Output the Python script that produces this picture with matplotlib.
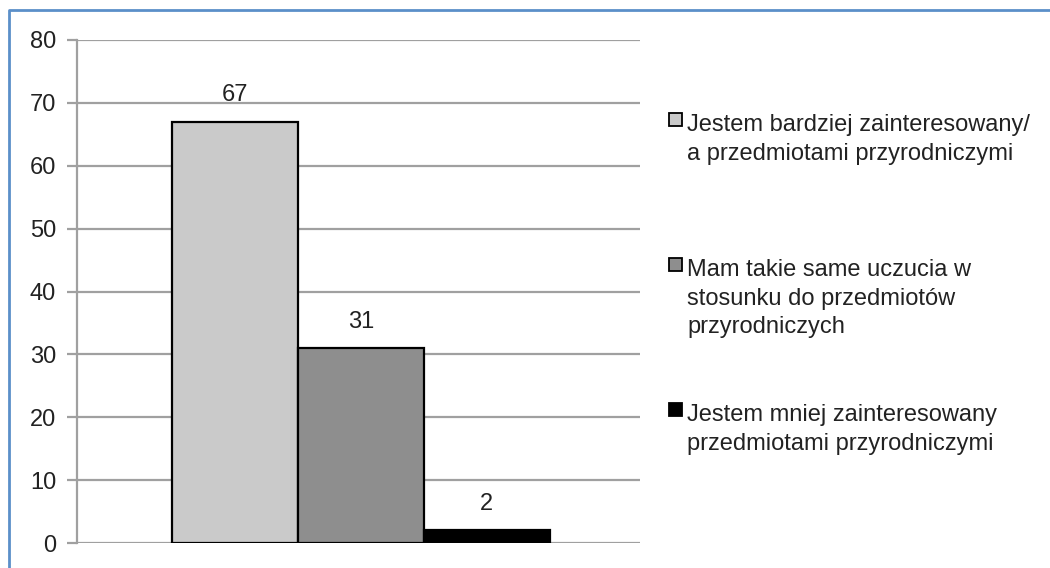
import matplotlib.pyplot as plt
from matplotlib.patches import Rectangle
from matplotlib.lines import Line2D

plt.rcParams['font.family'] = ['Liberation Sans', 'DejaVu Sans']

labels = ['Jestem bardziej zainteresowany/\na przedmiotami przyrodniczymi',
          'Mam takie same uczucia w\nstosunku do przedmiotów\nprzyrodniczych',
          'Jestem mniej zainteresowany\nprzedmiotami przyrodniczymi']
values = [67, 31, 2]
colors = ['#cacaca', '#8e8e8e', '#000000']

W, H = 1050, 568
fig = plt.figure(figsize=(W / 100, H / 100), dpi=100)
ax = fig.add_axes([77 / W, 1 - 543 / H, (640 - 77) / W, (543 - 40) / H])

width = 0.2238
offsets = [-width + 0.004, 0.004, width + 0.004]
bars = ax.bar(offsets, values, width=width, color=colors,
              edgecolor='black', linewidth=1.6, zorder=3)
for b, v in zip(bars, values):
    ax.annotate(str(v), (b.get_x() + b.get_width() / 2, v),
                xytext=(0, 11), textcoords='offset points',
                ha='center', va='bottom', fontsize=17, color='#222222')

ax.set_xlim(-0.5, 0.5)
ax.set_ylim(0, 80)
ax.set_yticks(range(0, 81, 10))
ax.set_xticks([])
ax.grid(axis='y', color='#a0a0a0', linewidth=1.6, zorder=0)
for s in ['top', 'right', 'bottom']:
    ax.spines[s].set_visible(False)
ax.spines['left'].set_color('#a0a0a0')
ax.spines['left'].set_linewidth(1.6)
ax.tick_params(axis='y', length=7, width=1.6, color='#a0a0a0',
               labelsize=17, labelcolor='#222222', pad=8)

# legend drawn by hand: marker next to the first line of each entry
baselines = [132, 277, 422]
for lab, c, y in zip(labels, colors, baselines):
    fig.patches.append(Rectangle((668.5 / W, 1 - (y - 6) / H), 13 / W, 13 / H,
                                 transform=fig.transFigure, facecolor=c,
                                 edgecolor='black', linewidth=1.3))
    fig.text(687 / W, 1 - (y - 17.5) / H, lab, fontsize=17, color='#222222',
             va='top', ha='left', linespacing=1.38)

# blue frame on the top and left edges
fig.lines.append(Line2D([9 / W, 9 / W, 1.0], [0.0, 1 - 10 / H, 1 - 10 / H],
                        transform=fig.transFigure, color='#5b8fc9', linewidth=2))

fig.savefig('out.png', dpi=100)
